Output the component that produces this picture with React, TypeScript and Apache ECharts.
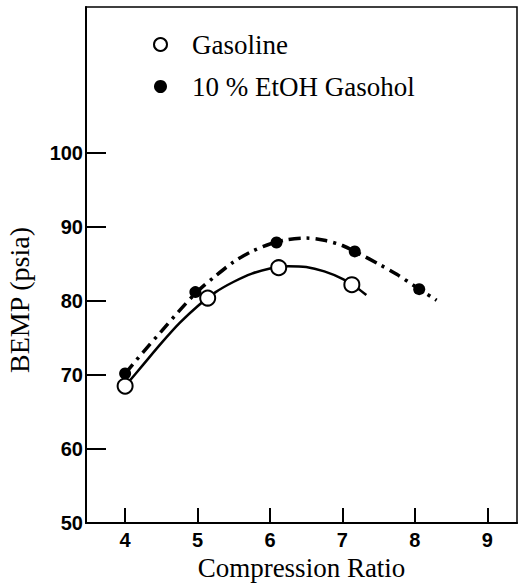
import React, { useEffect, useRef } from "react";
import * as echarts from "echarts";

const xTicks = [4, 5, 6, 7, 8, 9];
const yTicks = [50, 60, 70, 80, 90, 100];

const gasolineX = [4.0, 5.14, 6.12, 7.13];
const gasolineY = [68.5, 80.4, 84.5, 82.2];

const gasoholX = [4.0, 4.97, 6.09, 7.17, 8.06];
const gasoholY = [70.2, 81.2, 87.9, 86.7, 81.6];

const gasolineCurveX = [4.0, 4.25, 4.5, 4.75, 5.0, 5.25, 5.5, 5.75, 6.0, 6.25, 6.5, 6.75, 7.0, 7.2, 7.33];
const gasolineCurveY = [68.5, 71.4, 74.3, 77.0, 79.3, 81.2, 82.6, 83.7, 84.4, 84.7, 84.6, 84.0, 83.0, 81.8, 80.8];

const gasoholCurveX = [4.0, 4.25, 4.5, 4.75, 5.0, 5.25, 5.5, 5.75, 6.0, 6.25, 6.5, 6.75, 7.0, 7.25, 7.5, 7.75, 8.0, 8.3];
const gasoholCurveY = [70.2, 73.1, 75.9, 78.7, 81.3, 83.4, 85.3, 86.7, 87.7, 88.3, 88.5, 88.2, 87.5, 86.3, 85.0, 83.6, 82.0, 80.1];

const zip = (xs: number[], ys: number[]) => xs.map((x, i) => [x, ys[i]]);

export default function App() {
  const ref = useRef<HTMLDivElement>(null);
  useEffect(() => {
    if (!ref.current) return;
    const chart = echarts.init(ref.current, null, { renderer: "svg" });
    const tickFont = {
      fontFamily: "Liberation Sans",
      fontWeight: "bold" as const,
      fontSize: 20,
      color: "#000",
    };
    chart.setOption({
      animation: false,
      backgroundColor: "#fff",
      grid: {
        left: 86,
        top: 7,
        right: 3,
        bottom: 61,
        show: true,
        borderColor: "#000",
        borderWidth: 1.5,
        containLabel: false,
        outerBoundsMode: "none",
      },
      legend: {
        orient: "vertical",
        left: 148,
        top: 26,
        itemWidth: 13,
        itemHeight: 13,
        itemGap: 15,
        data: ["Gasoline", "10 % EtOH Gasohol"],
        textStyle: {
          fontFamily: "Liberation Serif",
          fontSize: 27,
          color: "#000",
          padding: [0, 0, 0, 20],
        },
      },
      xAxis: {
        type: "value",
        min: 3.46,
        max: 9.41,
        name: "Compression Ratio",
        nameLocation: "middle",
        nameGap: 31,
        nameTextStyle: { fontFamily: "Liberation Serif", fontSize: 27, color: "#000" },
        axisLine: { lineStyle: { color: "#000", width: 2 } },
        axisTick: { inside: true, length: 15, customValues: xTicks, lineStyle: { color: "#000", width: 2 } },
        axisLabel: { ...tickFont, margin: 7, customValues: xTicks },
        splitLine: { show: false },
      },
      yAxis: {
        type: "value",
        min: 50,
        max: 119.73,
        name: "BEMP (psia)",
        nameLocation: "middle",
        nameGap: 53,
        nameTextStyle: {
          fontFamily: "Liberation Serif",
          fontSize: 28,
          color: "#000",
          padding: [0, 70, 0, 0],
        },
        axisLine: { lineStyle: { color: "#000", width: 2 } },
        axisTick: { inside: true, length: 20, customValues: yTicks, lineStyle: { color: "#000", width: 2 } },
        axisLabel: { ...tickFont, margin: 3, customValues: yTicks },
        splitLine: { show: false },
      },
      series: [
        {
          type: "line",
          name: "gasolineCurve",
          data: zip(gasolineCurveX, gasolineCurveY),
          smooth: 0.3,
          showSymbol: false,
          symbol: "none",
          lineStyle: { color: "#000", width: 2.5 },
          z: 2,
        },
        {
          type: "line",
          name: "gasoholCurve",
          data: zip(gasoholCurveX, gasoholCurveY),
          smooth: 0.3,
          showSymbol: false,
          symbol: "none",
          lineStyle: { color: "#000", width: 3.5, type: [12, 6, 3, 6], cap: "butt" },
          z: 2,
        },
        {
          type: "scatter",
          name: "Gasoline",
          data: zip(gasolineX, gasolineY),
          symbol: "circle",
          symbolSize: 15,
          itemStyle: { color: "#fff", borderColor: "#000", borderWidth: 2, opacity: 1 },
          z: 4,
        },
        {
          type: "scatter",
          name: "10 % EtOH Gasohol",
          data: zip(gasoholX, gasoholY),
          symbol: "circle",
          symbolSize: 12,
          itemStyle: { color: "#000", opacity: 1 },
          z: 5,
        },
      ],
    });
    return () => chart.dispose();
  }, []);
  return (
    <div
      ref={ref}
      style={{ position: "fixed", left: 0, top: 0, width: 520, height: 584 }}
    />
  );
}
